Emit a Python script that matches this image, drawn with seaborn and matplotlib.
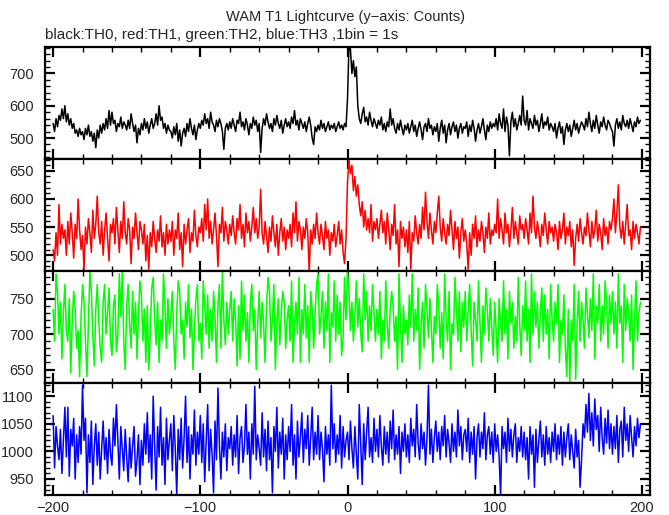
import matplotlib
matplotlib.use("Agg")
import matplotlib.pyplot as plt
from matplotlib.ticker import MultipleLocator
import numpy as np
import seaborn as sns

# time bins (1 bin = 1 s), relative to trigger
time_s = np.arange(-200, 200)

# TH0 counts (black)
th0 = [
    545, 520, 560, 535, 570, 555, 590, 560, 600, 550, 575, 540, 560, 530, 545, 515, 525, 505, 530, 510,
    520, 495, 530, 510, 540, 505, 520, 490, 515, 470, 525, 500, 540, 515, 545, 525, 560, 530, 585, 540,
    580, 545, 555, 520, 545, 535, 565, 530, 550, 540, 525, 555, 530, 575, 545, 520, 540, 485, 530, 510,
    545, 525, 560, 530, 550, 515, 540, 560, 530, 545, 575, 540, 600, 555, 565, 530, 545, 515, 540, 525,
    520, 500, 535, 510, 545, 490, 525, 475, 515, 530, 505, 545, 520, 560, 530, 510, 540, 495, 525, 545,
    530, 555, 540, 575, 545, 560, 530, 580, 550, 540, 520, 555, 535, 560, 545, 520, 465, 530, 545, 525,
    550, 530, 560, 540, 520, 555, 545, 580, 535, 550, 525, 560, 540, 510, 545, 530, 565, 540, 555, 520,
    545, 455, 530, 560, 540, 575, 550, 530, 545, 520, 560, 540, 570, 545, 530, 555, 515, 540, 560, 535,
    550, 530, 565, 545, 585, 540, 555, 525, 560, 545, 530, 550, 520, 545, 565, 540, 500, 480, 535, 520,
    540, 525, 555, 530, 545, 520, 535, 550, 525, 540, 530, 545, 520, 535, 550, 530, 540, 525, 545, 535,
    620, 790, 775, 700, 740, 690, 720, 600, 560, 545, 575, 595, 550, 565, 540, 580, 555, 535, 560, 545,
    530, 555, 540, 565, 525, 545, 520, 550, 535, 590, 540, 560, 530, 515, 545, 525, 555, 530, 510, 540,
    525, 545, 515, 535, 555, 520, 540, 505, 530, 550, 525, 495, 535, 545, 520, 560, 530, 540, 510, 535,
    520, 545, 490, 530, 555, 515, 540, 485, 525, 545, 510, 535, 550, 520, 540, 500, 530, 545, 515, 535,
    530, 550, 505, 540, 520, 555, 530, 490, 525, 545, 515, 535, 560, 525, 495, 540, 520, 550, 530, 545,
    535, 560, 525, 575, 545, 530, 590, 520, 565, 540, 445, 550, 580, 535, 560, 525, 545, 570, 540, 630,
    555, 540, 585, 525, 560, 545, 530, 570, 540, 555, 520, 545, 575, 530, 550, 540, 565, 525, 545, 535,
    520, 545, 500, 530, 550, 515, 535, 480, 525, 545, 520, 540, 505, 530, 555, 525, 545, 515, 535, 550,
    540, 525, 560, 535, 580, 545, 520, 555, 530, 570, 540, 515, 550, 535, 565, 540, 525, 555, 545, 530,
    520, 475, 540, 560, 530, 550, 525, 570, 545, 535, 555, 530, 560, 540, 520, 550, 535, 565, 545, 555,
]

# TH1 counts (red)
th1 = [
    510, 490, 540, 500, 590, 520, 555, 530, 545, 500, 560, 520, 575, 540, 495, 555, 530, 600, 545, 510,
    535, 475, 550, 520, 565, 540, 505, 580, 530, 555, 605, 540, 520, 560, 500, 545, 575, 530, 490, 555,
    540, 565, 520, 585, 545, 505, 560, 530, 595, 540, 520, 565, 545, 485, 550, 530, 575, 540, 510, 560,
    545, 520, 555, 490, 535, 475, 540, 515, 560, 530, 505, 545, 525, 570, 515, 540, 500, 555, 520, 545,
    525, 560, 500, 545, 530, 575, 510, 540, 480, 555, 520, 545, 565, 505, 540, 525, 580, 535, 515, 550,
    540, 565, 525, 590, 545, 600, 530, 560, 520, 545, 575, 535, 480, 555, 540, 585, 525, 560, 545, 520,
    555, 535, 570, 540, 520, 565, 545, 590, 530, 555, 515, 575, 540, 560, 525, 550, 585, 540, 565, 530,
    550, 617, 540, 520, 560, 535, 505, 550, 525, 570, 540, 515, 555, 500, 540, 565, 525, 550, 510, 545,
    530, 555, 515, 575, 540, 595, 525, 560, 545, 510, 550, 530, 565, 540, 470, 545, 520, 555, 530, 575,
    540, 520, 555, 535, 510, 560, 530, 545, 500, 540, 525, 555, 515, 535, 560, 520, 545, 505, 485, 530,
    630, 668, 645, 660, 615, 640, 605, 625, 590, 570, 595, 550, 580, 545, 565, 540, 590, 525, 560, 545,
    565, 530, 555, 580, 540, 560, 520, 575, 545, 510, 555, 535, 590, 520, 545, 480, 560, 530, 550, 515,
    545, 505, 560, 475, 540, 525, 570, 540, 520, 555, 530, 585, 545, 612, 560, 530, 575, 545, 520, 560,
    540, 575, 605, 550, 525, 565, 540, 520, 555, 535, 580, 545, 510, 560, 530, 550, 495, 540, 565, 525,
    545, 520, 475, 540, 500, 555, 530, 570, 515, 545, 525, 560, 540, 505, 550, 530, 575, 520, 545, 535,
    555, 540, 600, 530, 565, 545, 520, 575, 540, 555, 515, 545, 585, 530, 560, 540, 520, 570, 545, 555,
    530, 565, 545, 520, 575, 540, 605, 550, 530, 560, 540, 515, 555, 535, 575, 545, 520, 560, 540, 550,
    525, 555, 540, 510, 560, 530, 545, 575, 520, 550, 535, 560, 515, 545, 482, 530, 555, 525, 565, 540,
    520, 550, 535, 575, 545, 515, 560, 530, 545, 580, 525, 555, 540, 510, 565, 535, 550, 520, 560, 545,
    565, 600, 540, 575, 625, 550, 530, 560, 520, 555, 590, 535, 545, 510, 560, 530, 555, 540, 520, 550,
]

# TH2 counts (green)
th2 = [
    735, 690, 785, 760, 700, 745, 665, 730, 770, 705, 690, 750, 645, 720, 760, 735, 680, 705, 640, 725,
    770, 745, 690, 640, 715, 790, 760, 700, 655, 735, 770, 720, 680, 660, 745, 770, 700, 730, 765, 690,
    670, 740, 755, 675, 700, 785, 725, 790, 690, 650, 740, 770, 715, 680, 760, 700, 745, 665, 730, 775,
    755, 690, 735, 660, 740, 650, 700, 765, 780, 720, 685, 745, 660, 720, 690, 785, 740, 680, 750, 700,
    725, 760, 690, 650, 730, 775, 760, 700, 720, 665, 745, 710, 770, 695, 735, 650, 705, 750, 770, 690,
    715, 665, 775, 740, 700, 755, 680, 735, 690, 760, 725, 660, 740, 770, 680, 790, 720, 685, 745, 700,
    735, 760, 690, 750, 720, 655, 740, 665, 775, 705, 755, 690, 730, 660, 745, 770, 705, 735, 650, 715,
    760, 695, 745, 715, 660, 740, 780, 760, 690, 720, 770, 650, 715, 750, 685, 730, 760, 745, 680, 720,
    740, 690, 775, 660, 715, 745, 700, 780, 660, 735, 700, 770, 695, 740, 660, 760, 735, 680, 730, 770,
    785, 700, 725, 760, 680, 745, 705, 785, 660, 730, 710, 775, 690, 755, 700, 745, 670, 695, 780, 720,
    790, 760, 705, 745, 690, 725, 775, 710, 750, 700, 675, 785, 720, 760, 690, 740, 705, 770, 730, 690,
    735, 700, 760, 665, 720, 690, 775, 715, 680, 735, 760, 740, 690, 725, 650, 785, 715, 660, 740, 700,
    720, 685, 755, 710, 785, 690, 735, 705, 765, 650, 715, 745, 680, 770, 735, 695, 750, 710, 660, 725,
    700, 770, 740, 680, 730, 665, 785, 720, 690, 760, 650, 715, 700, 780, 735, 690, 760, 675, 745, 710,
    760, 690, 735, 770, 705, 655, 745, 720, 690, 775, 715, 660, 740, 700, 765, 735, 690, 750, 710, 670,
    745, 705, 660, 750, 715, 690, 775, 700, 735, 665, 760, 715, 745, 680, 725, 690, 780, 715, 670, 740,
    705, 775, 690, 735, 660, 785, 700, 760, 710, 745, 680, 730, 765, 690, 755, 700, 735, 665, 770, 720,
    690, 745, 715, 770, 660, 720, 700, 755, 680, 640, 735, 632, 720, 690, 770, 636, 715, 760, 690, 745,
    720, 680, 765, 730, 695, 750, 705, 785, 665, 740, 715, 770, 690, 740, 700, 775, 745, 680, 755, 715,
    760, 700, 745, 680, 785, 715, 740, 660, 770, 705, 750, 730, 690, 755, 650, 720, 775, 690, 730, 745,
]

# TH3 counts (blue)
th3 = [
    1065, 970, 1045, 1010, 985, 1040, 960, 1020, 1080, 990, 1080, 955, 1040, 1010, 1060, 950, 1030, 980, 1045, 995,
    1120, 1020, 1060, 925, 1030, 980, 1055, 940, 1010, 1050, 975, 1035, 950, 1005, 1055, 985, 1025, 960, 1040, 995,
    975, 1060, 1010, 1085, 1020, 950, 1045, 1005, 965, 1040, 990, 945, 1025, 970, 1010, 1045, 955, 985, 1030, 940,
    1020, 975, 1050, 995, 1070, 980, 1030, 950, 1100, 1010, 930, 1045, 990, 1080, 975, 1025, 940, 1060, 985, 1020,
    1050, 965, 1065, 1005, 920, 1040, 985, 1060, 970, 1025, 1100, 980, 1045, 950, 1030, 995, 1075, 975, 1035, 995,
    1065, 980, 1050, 945, 1020, 1085, 965, 1040, 995, 925, 1055, 985, 1115, 1010, 950, 1035, 990, 1050, 965, 1025,
    1005, 1045, 975, 1030, 990, 1065, 960, 1025, 1045, 980, 1010, 1085, 995, 1035, 950, 1050, 995, 1118, 985, 1030,
    1005, 975, 1070, 990, 1040, 965, 1055, 985, 1025, 925, 1045, 1000, 1080, 970, 1035, 995, 1060, 950, 1030, 985,
    1045, 1000, 1085, 975, 1030, 950, 1055, 990, 1025, 1070, 980, 1040, 1005, 1065, 975, 1025, 1080, 985, 1035, 995,
    1065, 985, 1035, 1005, 945, 1045, 995, 1030, 975, 1120, 1005, 1050, 980, 1030, 995, 1065, 970, 1045, 990, 1020,
    1035, 985, 1055, 1005, 970, 1045, 995, 950, 1085, 1015, 940, 1050, 985, 1035, 1080, 990, 1025, 980, 1060, 1000,
    1040, 990, 1065, 1010, 975, 1045, 995, 1035, 980, 1055, 1005, 1075, 985, 1030, 995, 1045, 960, 1035, 1000, 1050,
    990, 1030, 980, 1060, 1010, 1040, 990, 1085, 1015, 985, 1050, 1005, 1035, 975, 1025, 1120, 995, 1040, 980, 1025,
    1055, 1000, 1035, 985, 1045, 1010, 1065, 990, 1040, 1015, 980, 1050, 1000, 1035, 990, 1075, 1010, 1045, 985, 1030,
    1040, 1000, 1060, 980, 1035, 995, 1045, 950, 1025, 1050, 990, 1035, 1005, 1070, 985, 1030, 1045, 995, 1035, 980,
    1050, 1000, 1030, 990, 920, 1045, 1005, 1035, 980, 1060, 1000, 1040, 990, 1030, 1050, 980, 1025, 1000, 1045, 990,
    1035, 985, 1025, 950, 1045, 995, 1030, 935, 1040, 980, 1020, 1055, 990, 1030, 975, 1045, 995, 1025, 980, 1035,
    1000, 1050, 985, 1030, 995, 1045, 975, 1035, 990, 1025, 1050, 985, 1030, 1000, 970, 1040, 990, 1020, 935, 985,
    1050, 1025, 1085, 1035, 1105, 1020, 1070, 1010, 1095, 1040, 1065, 1000, 1080, 1025, 995, 1060, 1015, 1075, 1005, 1050,
    995, 1045, 1005, 1065, 980, 1040, 1055, 990, 1080, 1020, 1050, 1000, 1065, 1025, 990, 1045, 1010, 1060, 1025, 1050,
]

series = [th0, th1, th2, th3]
colors = ["#000000", "#ff0000", "#00ff00", "#0000ff"]
ylims = [(435, 782), (472, 671), (631, 789), (921, 1124)]
ymajor = [100, 50, 50, 50]
yminor = [20, 10, 10, 10]

sns.set_style("ticks")
plt.rcParams["font.family"] = ["Liberation Sans", "DejaVu Sans"]

fig, axes = plt.subplots(4, 1, sharex=True, figsize=(6.69, 5.15), dpi=100)
fig.subplots_adjust(left=45 / 669, right=650 / 669, top=1 - 47 / 515,
                    bottom=1 - 495 / 515, hspace=0)

for ax, y, c, lim, maj, mnr in zip(axes, series, colors, ylims, ymajor, yminor):
    sns.lineplot(x=time_s, y=y, ax=ax, color=c, linewidth=1.1, estimator=None)
    ax.set_xlim(-205.5, 205.5)
    ax.set_ylim(*lim)
    ax.set_xlabel("")
    ax.set_ylabel("")
    ax.xaxis.set_major_locator(MultipleLocator(100))
    ax.xaxis.set_minor_locator(MultipleLocator(20))
    ax.yaxis.set_major_locator(MultipleLocator(maj))
    ax.yaxis.set_minor_locator(MultipleLocator(mnr))
    ax.tick_params(which="both", direction="in", top=True, right=True,
                   labelsize=10.5, color="black")
    ax.tick_params(which="major", length=7, width=1.6)
    ax.tick_params(which="minor", length=3.5, width=1.0)
    ax.tick_params(axis="y", pad=8)
    ax.tick_params(axis="x", pad=4)
    for sp in ax.spines.values():
        sp.set_linewidth(1.6)
        sp.set_color("black")

fig.text(0.517, 1 - 17 / 515, "WAM T1 Lightcurve (y\u2212axis: Counts)",
         ha="center", va="center", fontsize=10.5)
fig.text(45 / 669, 1 - 35 / 515,
         "black:TH0, red:TH1, green:TH2, blue:TH3 ,1bin = 1s",
         ha="left", va="center", fontsize=11)

fig.savefig("out.png", dpi=100)
